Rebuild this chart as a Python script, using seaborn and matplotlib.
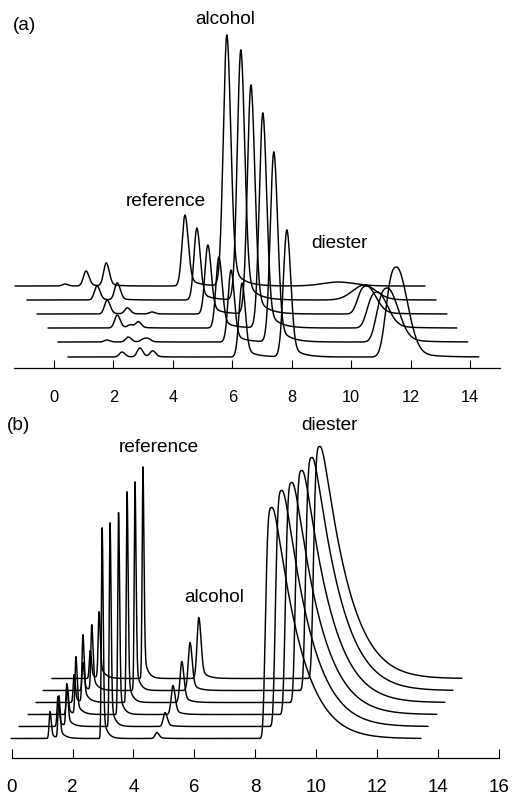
import numpy as np
import pandas as pd
import matplotlib
matplotlib.use("Agg")
import matplotlib.pyplot as plt
import seaborn as sns

# ---------------- Panel (a): six chromatograms, back (0) to front (5) -------------
a_base = [82, 68, 54, 40, 26, 11]            # vertical offset of each trace
a_start = [-1.31, -0.91, -0.57, -0.20, 0.13, 0.47]
a_end = [12.49, 12.86, 13.23, 13.56, 13.93, 14.30]
a_ref_pos = [4.41, 4.81, 5.18, 5.55, 5.96, 6.33]
a_ref_h = [71, 72, 69, 71, 72, 74]
a_alc_pos = [5.82, 6.29, 6.63, 7.03, 7.40, 7.84]
a_alc_h = [251, 250, 229, 215, 190, 127]
a_die_pos = [9.60, 10.45, 10.54, 10.90, 11.24, 11.55]
a_die_h = [4, 15, 28, 36, 54, 90]
a_die_w = [0.55, 0.40, 0.30, 0.33, 0.35, 0.35]
a_small_pos = [[0.37, 1.08, 1.76], [1.45, 2.13], [1.79, 2.47, 3.30],
               [2.13, 2.57, 2.84], [1.78, 2.50, 3.00, 3.16], [2.29, 2.89, 3.32]]
a_small_h = [[2, 15, 23], [14, 17], [14, 6, 2], [13, 3, 6], [2, 5, 2.5, 3], [5, 9, 6]]
a_ticks = [0, 2, 4, 6, 8, 10, 12, 14]

# ---------------- Panel (b): six chromatograms, back (0) to front (5) -------------
b_base = [79, 67, 55, 43, 31, 19]
b_start = [1.32, 1.03, 0.80, 0.54, 0.24, -0.02]
b_end = [14.79, 14.50, 14.23, 13.97, 13.68, 13.45]
b_pkA_pos = [2.58, 2.34, 2.05, 1.82, 1.52, 1.26]
b_pkA_h = [28, 28, 28, 29, 30, 27]
b_pkB_pos = [2.87, 2.63, 2.34, 2.11, 1.81, 1.55]
b_pkB_h = [66, 65, 67, 57, 42, 42]
b_ref_pos = [4.31, 4.05, 3.79, 3.51, 3.23, 2.97]
b_ref_h = [212, 209, 211, 202, 204, 211]
b_alc_pos = [6.15, 5.86, 5.59, 5.30, 5.04, 4.77]
b_alc_h = [61, 48, 41, 29, 14, 6]
b_die_pos = [10.13, 9.87, 9.54, 9.21, 8.88, 8.55]
b_die_h = [232, 233, 232, 232, 236, 231]
b_ticks = [0, 2, 4, 6, 8, 10, 12, 14, 16]


def peak(x, pos, h, wl, wr, pl=2.0, f=0.0, tau=1.0, a=0.0, taper=np.inf):
    d = x - pos
    y = np.zeros_like(x)
    L = d < 0
    y[L] = h * np.exp(-0.5 * (np.abs(d[L]) / wl) ** pl)
    dr = d[~L]
    core = np.exp(-0.5 * (dr / wr) ** 2)
    tail = np.exp(-(np.sqrt(dr ** 2 + a ** 2) - a) / tau) * np.exp(-0.5 * (dr / taper) ** 2)
    y[~L] = h * ((1 - f) * core + f * tail)
    return y


rows_a = []
for i in range(6):
    x = np.arange(a_start[i], a_end[i], 0.004)
    y = np.full_like(x, float(a_base[i]))
    for p, h in zip(a_small_pos[i], a_small_h[i]):
        y += peak(x, p, h, 0.09, 0.10, f=0.1, tau=0.3)
    y += peak(x, a_ref_pos[i], a_ref_h[i], 0.10, 0.11, f=0.14, tau=0.35)
    y += peak(x, a_alc_pos[i], a_alc_h[i], 0.12, 0.13, f=0.12, tau=0.35)
    y += peak(x, a_die_pos[i], a_die_h[i], a_die_w[i], a_die_w[i],
              pl=3.0 if i > 1 else 2.0, f=0.12, tau=0.6)
    rows_a.append(pd.DataFrame({"t": x, "signal": y, "run": i}))
df_a = pd.concat(rows_a, ignore_index=True)

rows_b = []
for i in range(6):
    x = np.arange(b_start[i], b_end[i], 0.003)
    y = np.full_like(x, float(b_base[i]))
    y += peak(x, b_pkA_pos[i], b_pkA_h[i], 0.03, 0.04, f=0.2, tau=0.15)
    y += peak(x, b_pkB_pos[i], b_pkB_h[i], 0.03, 0.04, f=0.25, tau=0.15)
    y += peak(x, b_ref_pos[i], b_ref_h[i], 0.025, 0.035, f=0.15, tau=0.12)
    y += peak(x, b_alc_pos[i], b_alc_h[i], 0.06, 0.07, f=0.2, tau=0.2)
    y += peak(x, b_die_pos[i], b_die_h[i], 0.20, 0.2, pl=4.0, f=1.0,
              tau=0.95, a=0.15, taper=2.2)
    rows_b.append(pd.DataFrame({"t": x, "signal": y, "run": i}))
df_b = pd.concat(rows_b, ignore_index=True)

sns.set_style("white")
plt.rcParams["font.family"] = ["Liberation Sans", "DejaVu Sans"]

W, H = 512, 797
fig = plt.figure(figsize=(W / 100, H / 100), dpi=100)

# panel (a) axes: axis line at y=368 px, x from 14 to 500 px, 0 at 54 px, 29.71 px/unit
axa = fig.add_axes([14 / W, (H - 368) / H, 486 / W, 368 / H])
sns.lineplot(data=df_a, x="t", y="signal", units="run", estimator=None, sort=False,
             color="black", linewidth=1.05, ax=axa)
axa.set_xlim((14 - 54) / 29.71, (500 - 54) / 29.71)
axa.set_ylim(0, 368)

# panel (b) axes: axis line at y=757.5 px, 0 at 11.7 px, 30.44 px/unit
axb = fig.add_axes([4 / W, (H - 757.5) / H, 504 / W, 352 / H])
sns.lineplot(data=df_b, x="t", y="signal", units="run", estimator=None, sort=False,
             color="black", linewidth=1.05, ax=axb)
axb.set_xlim((4 - 11.7) / 30.44, (508 - 11.7) / 30.44)
axb.set_ylim(0, 352)
axb.spines["bottom"].set_bounds(0, 16)

for ax, ticks, fs, tl, pad in ((axa, a_ticks, 11.8, 5.8, 16.0), (axb, b_ticks, 13.5, 6.5, 15.5)):
    for s in ("left", "top", "right"):
        ax.spines[s].set_visible(False)
    ax.spines["bottom"].set_linewidth(0.9)
    ax.spines["bottom"].set_color("black")
    ax.set_yticks([])
    ax.set_xticks(ticks)
    ax.set_xticklabels([str(t) for t in ticks])
    ax.tick_params(axis="x", direction="in", length=tl, width=0.8, pad=pad,
                   labelsize=fs, color="black", labelcolor="black", bottom=True)
    ax.set_xlabel("")
    ax.set_ylabel("")
    ax.patch.set_alpha(0)
    legend = ax.get_legend()
    if legend is not None:
        legend.remove()


def label(x, y, s, ha="center"):
    fig.text(x / W, 1 - y / H, s, ha=ha, va="center", fontsize=13.7, color="black")


label(13, 25, "(a)", ha="left")
label(225, 20, "alcohol")
label(166, 202, "reference")
label(339, 244, "diester")
label(7, 425, "(b)", ha="left")
label(330, 426, "diester")
label(159, 447, "reference")
label(214, 597, "alcohol")

fig.savefig("out.png", dpi=100)
